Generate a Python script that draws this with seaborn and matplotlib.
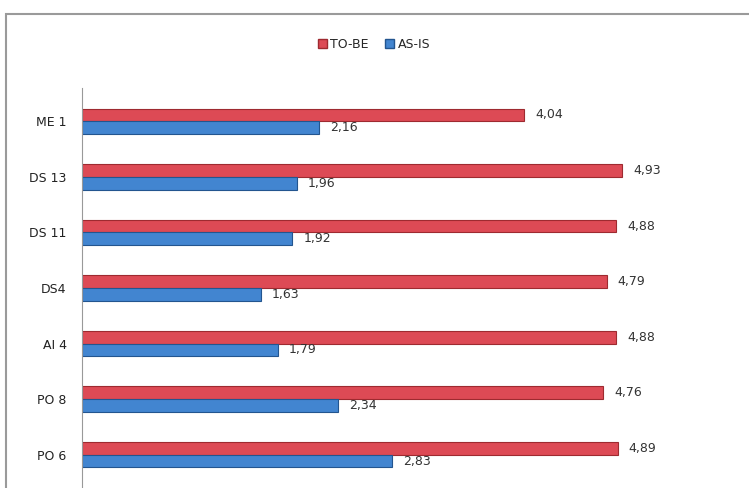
import matplotlib
matplotlib.use("Agg")
import matplotlib.pyplot as plt
import seaborn as sns
import pandas as pd
from matplotlib.patches import Rectangle, Patch

categories = ["ME 1", "DS 13", "DS 11", "DS4", "AI 4", "PO 8", "PO 6"]
to_be = [4.04, 4.93, 4.88, 4.79, 4.88, 4.76, 4.89]
as_is = [2.16, 1.96, 1.92, 1.63, 1.79, 2.34, 2.83]
series = ["TO-BE", "AS-IS"]

df = pd.DataFrame({
    "cat": categories * 2,
    "value": to_be + as_is,
    "series": [series[0]] * len(categories) + [series[1]] * len(categories),
})

sns.set_theme(style="white")
plt.rcParams["font.family"] = ["DejaVu Sans"]

W, H = 749, 488
fig = plt.figure(figsize=(W / 100, H / 100), dpi=100)
ax = fig.add_axes([82 / W, 0, 1 - 82 / W, (H - 88) / H])

palette = {"TO-BE": "#DD4A55", "AS-IS": "#4285D0"}
sns.barplot(data=df, y="cat", x="value", hue="series", order=categories,
            hue_order=series, palette=palette, orient="h", width=0.46,
            saturation=1, ax=ax, legend=False)

edges = {"TO-BE": "#9E2A30", "AS-IS": "#23558F"}
for cont, s in zip(ax.containers, series):
    for p in cont:
        p.set_edgecolor(edges[s])
        p.set_linewidth(0.8)
    ax.bar_label(cont, labels=[f"{v:.2f}".replace(".", ",") for v in cont.datavalues],
                 padding=8, fontsize=9, color="#333333")

ax.set_xlim(0, 6.09)
ax.set_ylim(6.6, -0.6)
ax.set_xlabel("")
ax.set_ylabel("")
ax.set_xticks([])
ax.tick_params(axis="y", length=0, pad=11, labelsize=9, labelcolor="#222222")
for side in ["top", "right", "bottom"]:
    ax.spines[side].set_visible(False)
ax.spines["left"].set_color("#999999")
ax.spines["left"].set_linewidth(0.8)

# outer chart frame
fig.patches.append(Rectangle((6 / W, -0.1), 1.2, (H - 14) / H + 0.1,
                             transform=fig.transFigure, fill=False,
                             edgecolor="#9a9a9a", linewidth=1.5))

# legend
handles = [Patch(facecolor=palette[s], edgecolor=edges[s]) for s in series]
fig.legend(handles, series, loc="center", bbox_to_anchor=(374 / W, 1 - 44 / H),
           ncol=2, frameon=False, fontsize=9, handlelength=0.7, handleheight=0.7,
           handletextpad=0.3, columnspacing=1.3)

fig.savefig("out.png", dpi=100)
